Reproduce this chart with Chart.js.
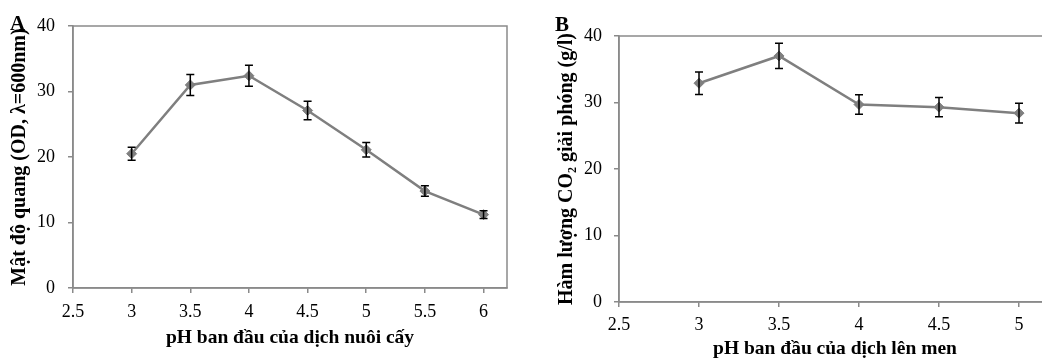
<!DOCTYPE html>
<html><head><meta charset="utf-8">
<script src="https://cdn.jsdelivr.net/npm/chart.js@4"></script>
<style>
html,body{margin:0;padding:0;width:1042px;height:360px;overflow:hidden;background:#fff;}
#wrapA{position:absolute;left:0;top:0;width:520px;height:360px;}
#wrapB{position:absolute;left:540px;top:0;width:520px;height:360px;}
.lbl{position:absolute;font-family:"Liberation Serif";font-weight:bold;font-size:21px;line-height:21px;color:#000;}
</style></head><body>
<div id="wrapA"><canvas id="cA" width="520" height="360"></canvas></div>
<div id="wrapB"><canvas id="cB" width="520" height="360"></canvas></div>
<div class="lbl" style="left:10px;top:13px">A</div>
<div class="lbl" style="left:555px;top:14px">B</div>
<script>
// ---- data ----
const phA = [3, 3.5, 4, 4.5, 5, 5.5, 6];
const odA = [20.5, 31.0, 32.4, 27.1, 21.1, 14.8, 11.2];
const errA = [1.0, 1.6, 1.6, 1.4, 1.1, 0.8, 0.6];
const phB = [3, 3.5, 4, 4.5, 5];
const co2B = [32.9, 37.0, 29.7, 29.3, 28.4];
const errB = [1.7, 1.9, 1.45, 1.45, 1.5];
const yTicks = [0, 10, 20, 30, 40];
const xTicksA = [2.5, 3, 3.5, 4, 4.5, 5, 5.5, 6];
const xTicksB = [2.5, 3, 3.5, 4, 4.5, 5];
const titleAy = 'Mật độ quang (OD, λ=600nm)';
const titleAx = 'pH ban đầu của dịch nuôi cấy';
const titleBy = 'Hàm lượng CO₂ giải phóng (g/l)';
const titleBx = 'pH ban đầu của dịch lên men';

const GRAY = '#8a8a8a';
const FONT = 'Liberation Serif';

const errPlugin = {
  id: 'errbars',
  afterDatasetsDraw(chart) {
    const ds = chart.data.datasets[0];
    const {ctx, scales: {x, y}} = chart;
    ctx.save();
    ctx.strokeStyle = '#000';
    ctx.lineWidth = 1.5;
    ds.data.forEach((p, i) => {
      const px = x.getPixelForValue(p.x);
      const t = y.getPixelForValue(p.y + ds.errors[i]);
      const b = y.getPixelForValue(p.y - ds.errors[i]);
      ctx.beginPath();
      ctx.moveTo(px, t); ctx.lineTo(px, b);
      ctx.moveTo(px - 4, t); ctx.lineTo(px + 4, t);
      ctx.moveTo(px - 4, b); ctx.lineTo(px + 4, b);
      ctx.stroke();
    });
    ctx.restore();
  }
};
const boxPlugin = {
  id: 'box',
  beforeDatasetsDraw(chart) {
    const {ctx, chartArea: a} = chart;
    ctx.save();
    ctx.strokeStyle = GRAY;
    ctx.lineWidth = 1.5;
    ctx.strokeRect(a.left, a.top, a.right - a.left, a.bottom - a.top);
    ctx.restore();
  }
};

function makeChart(id, xs, ys, errs, xTicks, c) {
  return new Chart(document.getElementById(id), {
    type: 'scatter',
    data: {
      datasets: [{
        data: xs.map((v, i) => ({x: v, y: ys[i]})),
        errors: errs,
        showLine: true,
        tension: 0,
        borderColor: '#7f7f7f',
        borderWidth: 2.5,
        pointStyle: 'rectRot',
        pointRadius: 5,
        pointBackgroundColor: '#7f7f7f',
        pointBorderColor: '#7f7f7f',
        pointBorderWidth: 1
      }]
    },
    options: {
      responsive: false,
      animation: false,
      layout: {padding: {left: 0, top: c.top, right: c.right, bottom: 0}},
      plugins: {legend: {display: false}, tooltip: {enabled: false}},
      scales: {
        x: {
          type: 'linear', min: 2.5, max: c.xMax,
          afterBuildTicks: s => { s.ticks = xTicks.map(v => ({value: v})); },
          afterFit: s => { s.height = c.xHeight; },
          grid: {drawOnChartArea: false, drawTicks: true, tickLength: 5, color: GRAY, lineWidth: 1.5},
          border: {display: true, color: GRAY, width: 1.5},
          ticks: {color: '#000', font: {family: FONT, size: 18}, padding: c.xTickPad, maxRotation: 0, callback: v => String(v)},
          title: {display: true, text: c.xTitle, color: '#000', font: {family: FONT, size: 19.5, weight: 'bold'}, padding: {top: 0, bottom: c.xTitlePad}}
        },
        y: {
          type: 'linear', min: 0, max: 40,
          afterBuildTicks: s => { s.ticks = yTicks.map(v => ({value: v})); },
          afterFit: s => { s.width = c.yWidth; },
          grid: {drawOnChartArea: false, drawTicks: true, tickLength: 5, color: GRAY, lineWidth: 1.5},
          border: {display: true, color: GRAY, width: 1.5},
          ticks: {color: '#000', font: {family: FONT, size: 18}, padding: c.yTickPad, callback: v => String(v)},
          title: {display: true, text: c.yTitle, color: '#000', font: {family: FONT, size: 20, weight: 'bold'}, padding: {top: c.yTitlePad, bottom: 0}}
        }
      }
    },
    plugins: [boxPlugin, errPlugin]
  });
}

makeChart('cA', phA, odA, errA, xTicksA, {
  top: 26, right: 13, xMax: 6.2, xHeight: 72, yWidth: 73,
  xTickPad: 8, yTickPad: 13, xTitlePad: 10, yTitlePad: 8,
  xTitle: titleAx, yTitle: titleAy
});
makeChart('cB', phB, co2B, errB, xTicksB, {
  top: 36, right: 9, xMax: 5.2, xHeight: 58, yWidth: 79,
  xTickPad: 7, yTickPad: 12, xTitlePad: -1, yTitlePad: 15,
  xTitle: titleBx, yTitle: titleBy
});
</script>
</body></html>
